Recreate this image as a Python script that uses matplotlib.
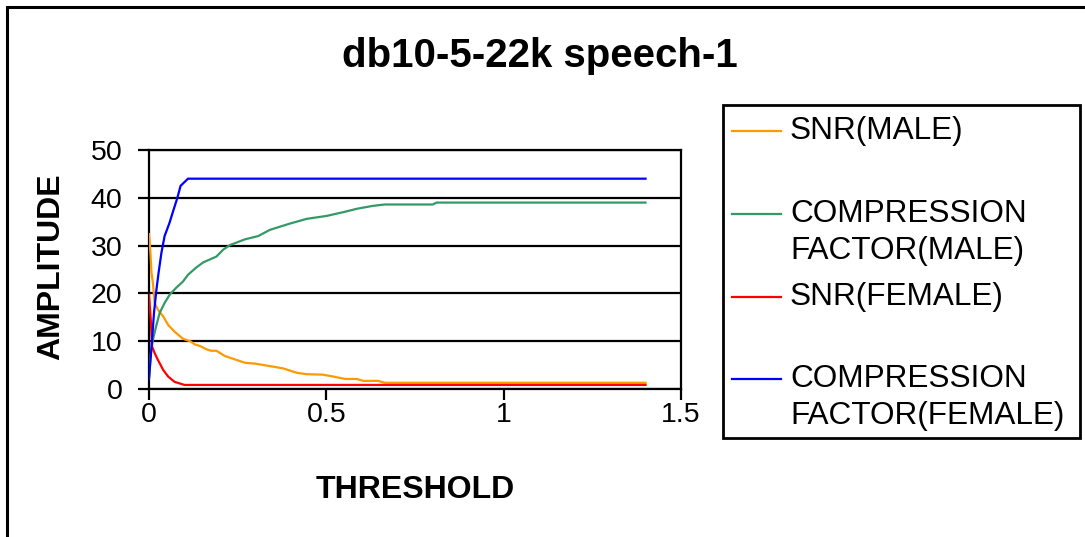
import matplotlib
matplotlib.use("Agg")
import matplotlib.pyplot as plt
from matplotlib.lines import Line2D
from matplotlib.patches import Rectangle

plt.rcParams['font.family'] = ['Liberation Sans', 'DejaVu Sans']

# Threshold sweep results for the db10 wavelet, 5 levels, 22 kHz speech sample
snr_male_x = [0, 0.004, 0.007, 0.011, 0.016, 0.025, 0.04, 0.054, 0.072, 0.096,
              0.116, 0.13, 0.144, 0.162, 0.175, 0.19, 0.214, 0.238, 0.27, 0.30,
              0.34, 0.379, 0.416, 0.445, 0.49, 0.52, 0.553, 0.586, 0.604, 0.646,
              0.665, 1.4]
snr_male_y = [32.4, 28.5, 24.3, 22.2, 18.0, 16.6, 15.2, 13.4, 12.0, 10.5,
              10.0, 9.3, 9.0, 8.3, 8.0, 8.0, 6.9, 6.3, 5.5, 5.3,
              4.8, 4.3, 3.4, 3.1, 3.0, 2.6, 2.1, 2.1, 1.7, 1.7,
              1.3, 1.3]

cf_male_x = [0, 0.005, 0.011, 0.02, 0.03, 0.044, 0.058, 0.077, 0.096, 0.11,
             0.133, 0.153, 0.19, 0.21, 0.228, 0.27, 0.308, 0.341, 0.397, 0.445,
             0.50, 0.548, 0.586, 0.63, 0.665, 0.80, 0.811, 1.4]
cf_male_y = [2.2, 7.5, 10.3, 13.1, 15.9, 18.0, 19.7, 21.2, 22.5, 23.9,
             25.4, 26.5, 27.7, 29.2, 30.1, 31.3, 32.0, 33.3, 34.6, 35.6,
             36.2, 37.0, 37.7, 38.3, 38.6, 38.6, 39.0, 39.0]

snr_female_x = [0, 0.005, 0.0085, 0.016, 0.025, 0.04, 0.054, 0.072, 0.1, 1.4]
snr_female_y = [19.7, 14.5, 8.9, 7.5, 6.1, 4.0, 2.6, 1.5, 0.85, 0.85]

cf_female_x = [0, 0.0066, 0.014, 0.021, 0.027, 0.035, 0.044, 0.058, 0.068, 0.08,
               0.089, 0.11, 1.4]
cf_female_y = [2.2, 8.2, 15.9, 20.8, 24.3, 28.5, 32.0, 34.8, 37.2, 40.0,
               42.5, 44.0, 44.0]

labels = ["SNR(MALE)", "COMPRESSION\nFACTOR(MALE)", "SNR(FEMALE)",
          "COMPRESSION\nFACTOR(FEMALE)"]
colors = ["#FF9900", "#339966", "#FF0000", "#0000FF"]
x_ticks = [0, 0.5, 1, 1.5]
x_tick_labels = ["0", "0.5", "1", "1.5"]
y_ticks = [0, 10, 20, 30, 40, 50]

W, H = 1085, 537
fig = plt.figure(figsize=(W / 100, H / 100), dpi=100)
fig.patch.set_facecolor("white")


def fx(px):
    return px / W


def fy(py):
    return 1 - py / H


# outer chart frame (only its left and top edges fall inside the image)
fig.patches.append(Rectangle((fx(7), fy(560)), fx(1200), fy(7) - fy(560),
                             transform=fig.transFigure, fill=False,
                             edgecolor="black", linewidth=2.2))

ax = fig.add_axes([fx(149), fy(389), fx(681) - fx(149), fy(150) - fy(389)])
series = [(snr_male_x, snr_male_y), (cf_male_x, cf_male_y),
          (snr_female_x, snr_female_y), (cf_female_x, cf_female_y)]
for (xs, ys), c in zip(series, colors):
    ax.plot(xs, ys, color=c, linewidth=1.6, solid_joinstyle="miter", zorder=3)

ax.set_xlim(0, 1.5)
ax.set_ylim(0, 50)
ax.set_xticks(x_ticks)
ax.set_xticklabels(x_tick_labels)
ax.set_yticks(y_ticks)
ax.yaxis.grid(True, color="black", linewidth=1.6)
ax.set_axisbelow(True)
for s in ax.spines.values():
    s.set_linewidth(1.6)
ax.tick_params(axis="both", direction="out", length=8, width=1.6,
               labelsize=20.5, colors="black")
ax.tick_params(axis="y", pad=11)
ax.tick_params(axis="x", pad=1.5)

fig.text(fx(540), fy(56), "db10-5-22k speech-1", ha="center", va="center",
         fontsize=29, fontweight="bold")
fig.text(fx(51), fy(267), "AMPLITUDE", ha="center", va="center",
         rotation=90, fontsize=23, fontweight="bold")
fig.text(fx(415), fy(490), "THRESHOLD", ha="center", va="center",
         fontsize=23, fontweight="bold")

# legend box
fig.patches.append(Rectangle((fx(723), fy(438)), fx(1080) - fx(723),
                             fy(105) - fy(438), transform=fig.transFigure,
                             fill=False, edgecolor="black", linewidth=2.0))
entry_y = [131, 214, 297, 379]
line_gap = 37
for lab, c, yy in zip(labels, colors, entry_y):
    fig.lines.append(Line2D([fx(732), fx(781)], [fy(yy), fy(yy)],
                            transform=fig.transFigure, color=c, linewidth=1.6))
    for k, part in enumerate(lab.split("\n")):
        fig.text(fx(790), fy(yy + k * line_gap), part, ha="left",
                 va="center", fontsize=22.7)

fig.savefig("out.png", dpi=100, facecolor="white")
